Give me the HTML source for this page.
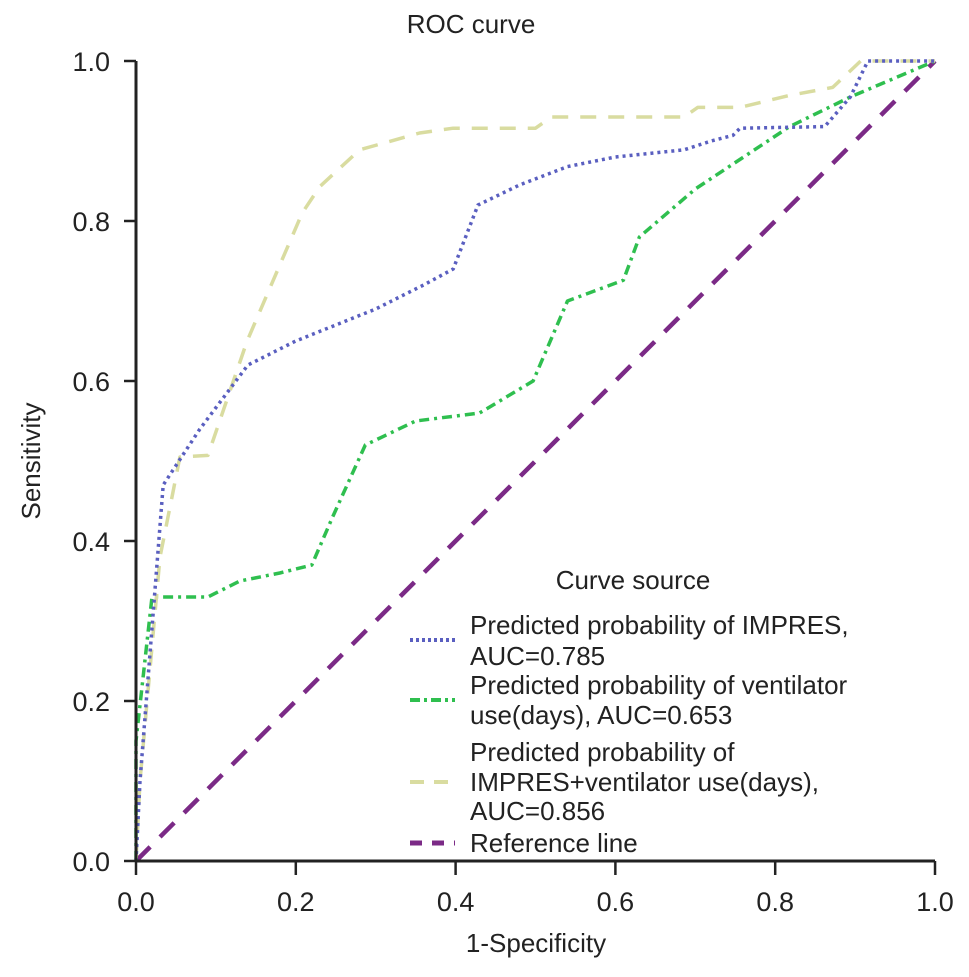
<!DOCTYPE html>
<html><head><meta charset="utf-8"><style>
body{margin:0;background:#fff;}
svg{display:block;font-family:"Liberation Sans",Arial,sans-serif;}
</style></head><body>
<svg width="969" height="977" viewBox="0 0 969 977">
<text x="471" y="33" font-size="26" text-anchor="middle" fill="#222">ROC curve</text>
<g id="curves"></g>
<g id="axes"></g>
<text x="536" y="952" font-size="26" text-anchor="middle" fill="#222">1-Specificity</text>
<text x="40" y="461" font-size="26" text-anchor="middle" fill="#222" transform="rotate(-90 40 461)">Sensitivity</text>
<g>
<text x="633" y="589" font-size="26" text-anchor="middle" fill="#222">Curve source</text>
<line x1="410" y1="640" x2="455" y2="640" stroke="#5a5fc0" stroke-width="4" stroke-dasharray="3,3"/>
<text font-size="26" fill="#222"><tspan x="470" y="634">Predicted probability of IMPRES,</tspan><tspan x="470" y="665">AUC=0.785</tspan></text>
<line x1="410" y1="700" x2="455" y2="700" stroke="#2fbf4f" stroke-width="4" stroke-dasharray="10,4,3,4"/>
<text font-size="26" fill="#222"><tspan x="470" y="694">Predicted probability of ventilator</tspan><tspan x="470" y="724">use(days), AUC=0.653</tspan></text>
<line x1="410" y1="782" x2="455" y2="782" stroke="#d9dca0" stroke-width="4" stroke-dasharray="14,10"/>
<text font-size="26" fill="#222"><tspan x="470" y="761">Predicted probability of</tspan><tspan x="470" y="791">IMPRES+ventilator use(days),</tspan><tspan x="470" y="820">AUC=0.856</tspan></text>
<line x1="410" y1="843" x2="455" y2="843" stroke="#7b2a86" stroke-width="5" stroke-dasharray="12,10"/>
<text x="470" y="852" font-size="26" fill="#222">Reference line</text>
</g>
</svg>
<script>
const xTicks = [0, 0.2, 0.4, 0.6, 0.8, 1.0];
const yTicks = [0, 0.2, 0.4, 0.6, 0.8, 1.0];
const impresX = [0, 0.005, 0.034, 0.08, 0.14, 0.2, 0.3, 0.36, 0.397, 0.428, 0.48, 0.54, 0.6, 0.686, 0.72, 0.747, 0.756, 0.862, 0.894, 0.916, 1];
const impresY = [0, 0.1, 0.47, 0.54, 0.62, 0.65, 0.69, 0.72, 0.74, 0.82, 0.845, 0.868, 0.88, 0.889, 0.9, 0.907, 0.916, 0.918, 0.955, 1.0, 1.0];
const ventX = [0, 0, 0.02, 0.09, 0.13, 0.18, 0.22, 0.246, 0.287, 0.35, 0.43, 0.497, 0.54, 0.61, 0.63, 0.7, 0.818, 0.894, 1];
const ventY = [0, 0.15, 0.33, 0.33, 0.35, 0.36, 0.37, 0.43, 0.52, 0.55, 0.56, 0.6, 0.7, 0.726, 0.78, 0.84, 0.918, 0.955, 1];
const combX = [0, 0.005, 0.03, 0.046, 0.055, 0.09, 0.139, 0.208, 0.23, 0.28, 0.355, 0.397, 0.5, 0.52, 0.686, 0.703, 0.756, 0.818, 0.872, 0.907, 1];
const combY = [0, 0.1, 0.38, 0.46, 0.505, 0.507, 0.65, 0.81, 0.843, 0.889, 0.91, 0.916, 0.916, 0.93, 0.93, 0.942, 0.942, 0.957, 0.967, 1.0, 1.0];
const refX = [0, 1];
const refY = [0, 1];
const tickLabels = ["0.0", "0.2", "0.4", "0.6", "0.8", "1.0"];

const NS = "http://www.w3.org/2000/svg";
const X0 = 136, X1 = 935, Y0 = 861, Y1 = 61;
function sx(v){ return X0 + v * (X1 - X0); }
function sy(v){ return Y0 - v * (Y0 - Y1); }
function mk(tag, attrs){ const e = document.createElementNS(NS, tag); for (const k in attrs) e.setAttribute(k, attrs[k]); return e; }

const curves = document.getElementById('curves');
function drawSeries(xs, ys, color, width, dash, name){
  const d = xs.map((x, i) => (i ? 'L' : 'M') + sx(x).toFixed(1) + ',' + sy(ys[i]).toFixed(1)).join(' ');
  const p = mk('path', {d: d, fill: 'none', stroke: color, 'stroke-width': width, 'stroke-dasharray': dash, 'stroke-linejoin': 'round'});
  
  
  curves.appendChild(p);
}
drawSeries(refX, refY, '#7b2a86', 4.5, '20,14', 'reference-line');
drawSeries(ventX, ventY, '#2fbf4f', 3.5, '10,5,3,5', 'ventilator-curve');
drawSeries(combX, combY, '#d9dca0', 3.5, '16,12', 'combined-curve');
drawSeries(impresX, impresY, '#5a5fc0', 3.5, '3,4', 'impres-curve');

const axes = document.getElementById('axes');
const xa = mk('line', {x1: X0, y1: Y0, x2: X1, y2: Y0, stroke: '#222', 'stroke-width': 3});


axes.appendChild(xa);
const ya = mk('line', {x1: X0, y1: Y0, x2: X0, y2: Y1, stroke: '#222', 'stroke-width': 3});


axes.appendChild(ya);
xTicks.forEach((t, i) => {
  const l = mk('line', {x1: sx(t), y1: Y0, x2: sx(t), y2: Y0 + 14, stroke: '#222', 'stroke-width': 2.5});
  
  
  axes.appendChild(l);
  const tx = mk('text', {x: sx(t), y: Y0 + 50, 'font-size': 27, 'text-anchor': 'middle', fill: '#222'});
  tx.textContent = tickLabels[i];
  
  
  axes.appendChild(tx);
});
yTicks.forEach((t, i) => {
  const l = mk('line', {x1: X0 - 12, y1: sy(t), x2: X0, y2: sy(t), stroke: '#222', 'stroke-width': 2.5});
  
  
  axes.appendChild(l);
  const tx = mk('text', {x: X0 - 26, y: sy(t) + 10, 'font-size': 27, 'text-anchor': 'end', fill: '#222'});
  tx.textContent = tickLabels[i];
  
  
  axes.appendChild(tx);
});
</script>
</body></html>
